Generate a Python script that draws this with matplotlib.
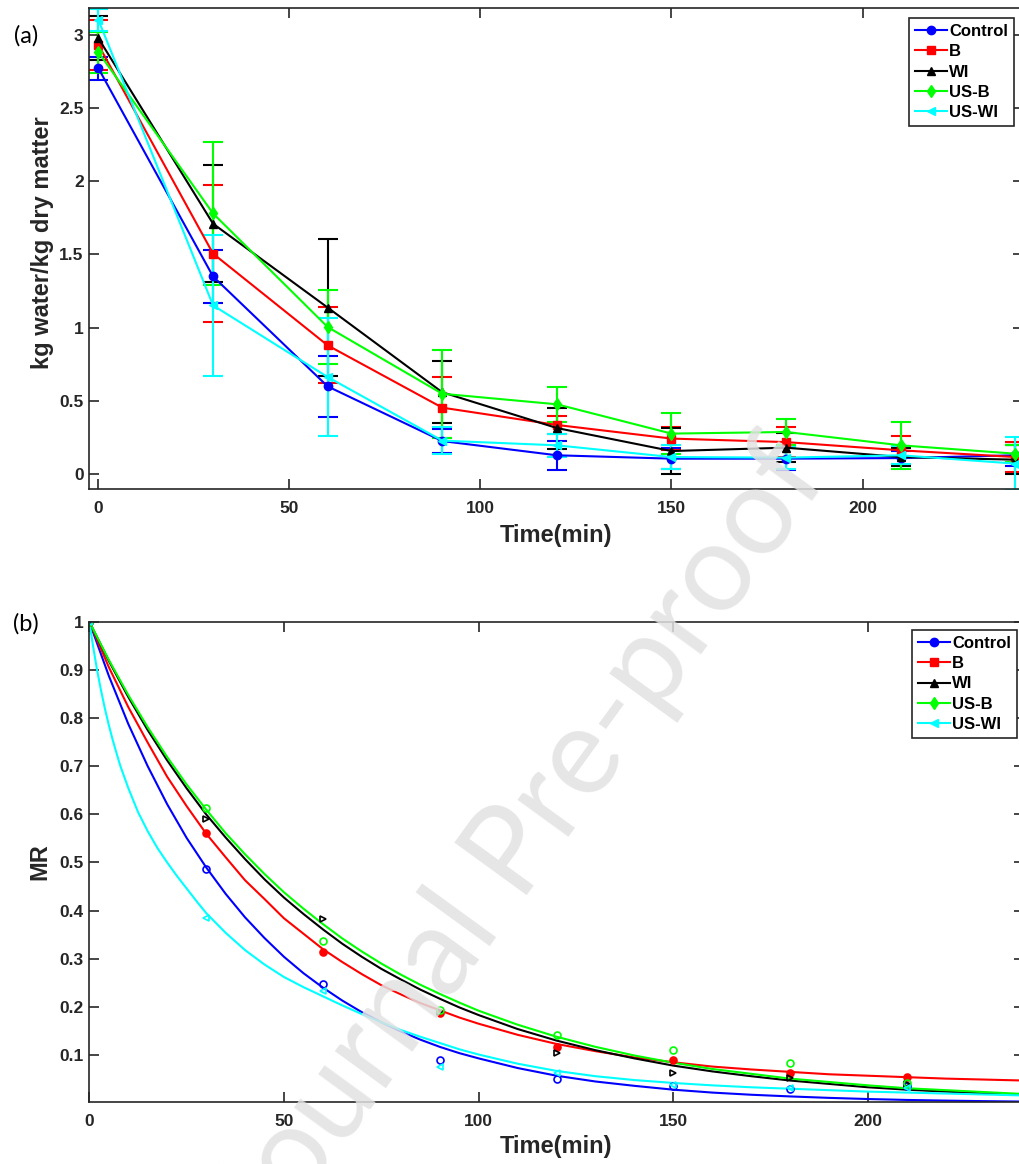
import numpy as np
import matplotlib
matplotlib.use('Agg')
import matplotlib.pyplot as plt
from matplotlib.lines import Line2D

plt.rcParams['font.family'] = ['Liberation Sans', 'DejaVu Sans']
plt.rcParams['font.weight'] = 'bold'

# ---------------- datos (a): contenido de humedad ----------------
tiempo = [0, 30, 60, 90, 120, 150, 180, 210, 240]

control = [2.77, 1.35, 0.60, 0.227, 0.13, 0.107, 0.107, 0.111, 0.13]
control_err = [0.08, 0.18, 0.21, 0.08, 0.10, 0.07, 0.075, 0.05, 0.07]
b = [2.93, 1.506, 0.88, 0.455, 0.337, 0.244, 0.22, 0.164, 0.118]
b_err = [0.17, 0.47, 0.26, 0.21, 0.06, 0.08, 0.10, 0.10, 0.10]
wi = [2.975, 1.71, 1.138, 0.56, 0.316, 0.159, 0.182, 0.118, 0.10]
wi_err = [0.15, 0.40, 0.47, 0.21, 0.14, 0.16, 0.10, 0.06, 0.10]
usb = [2.88, 1.78, 1.005, 0.55, 0.478, 0.278, 0.289, 0.198, 0.141]
usb_err = [0.14, 0.49, 0.25, 0.30, 0.12, 0.14, 0.09, 0.16, 0.06]
uswi = [3.10, 1.153, 0.664, 0.23, 0.198, 0.118, 0.114, 0.13, 0.073]
uswi_err = [0.075, 0.48, 0.40, 0.09, 0.08, 0.08, 0.075, 0.06, 0.18]

# ---------------- datos (b): MR experimental ----------------
mr_t = [0, 30, 60, 90, 120, 150, 180, 210]
mr_control = [1, 0.487, 0.247, 0.090, 0.050, 0.035, 0.030, 0.035]
mr_b = [1, 0.562, 0.315, 0.187, 0.116, 0.089, 0.062, 0.054]
mr_wi = [1, 0.59, 0.383, 0.19, 0.105, 0.062, 0.052, 0.040]
mr_usb = [1, 0.613, 0.336, 0.194, 0.142, 0.111, 0.083, 0.042]
mr_uswi = [1, 0.385, 0.234, 0.076, 0.062, 0.038, 0.031, 0.032]

# curvas del modelo
curva_t = [0, 5, 10, 15, 20, 25, 30, 35, 40, 45, 50, 55, 60, 65, 70, 75, 80, 85, 90, 95,
           100, 110, 120, 130, 140, 150, 160, 170, 180, 190, 200, 210, 220, 230, 240]
curva_control = [1, 0.888, 0.788, 0.70, 0.621, 0.551, 0.49, 0.435, 0.386, 0.343, 0.304,
                 0.27, 0.24, 0.213, 0.189, 0.168, 0.149, 0.132, 0.117, 0.104, 0.093,
                 0.073, 0.057, 0.045, 0.036, 0.028, 0.022, 0.0175, 0.014, 0.011,
                 0.0086, 0.0067, 0.0053, 0.0042, 0.0033]
curva_b = [1, 0.906, 0.823, 0.749, 0.678, 0.617, 0.56, 0.511, 0.463, 0.424, 0.384,
           0.352, 0.32, 0.293, 0.268, 0.245, 0.226, 0.208, 0.193, 0.178, 0.165,
           0.142, 0.123, 0.108, 0.095, 0.085, 0.076, 0.07, 0.065, 0.06, 0.057,
           0.054, 0.051, 0.049, 0.047]
curva_wi = [1, 0.919, 0.844, 0.775, 0.712, 0.654, 0.60, 0.552, 0.507, 0.465, 0.427,
            0.393, 0.361, 0.331, 0.304, 0.279, 0.257, 0.236, 0.217, 0.199, 0.183,
            0.154, 0.130, 0.110, 0.093, 0.078, 0.066, 0.056, 0.047, 0.040, 0.033,
            0.028, 0.024, 0.020, 0.017]
curva_usb = [1, 0.921, 0.848, 0.781, 0.719, 0.662, 0.61, 0.561, 0.517, 0.476, 0.438,
             0.404, 0.372, 0.342, 0.315, 0.29, 0.267, 0.246, 0.227, 0.209, 0.192,
             0.163, 0.138, 0.117, 0.099, 0.084, 0.071, 0.061, 0.051, 0.044, 0.037,
             0.031, 0.027, 0.023, 0.019]
curva_uswi_t = [0, 1, 2, 3, 4, 5, 6, 7, 8, 10, 12.5, 15, 17.5, 20, 22.5, 25, 27.5, 30,
                35, 40, 45, 50, 55, 60, 65, 70, 75, 80, 85, 90, 95, 100, 110, 120, 130,
                140, 150, 160, 170, 180, 190, 200, 210, 220, 230, 240]
curva_uswi = [1, 0.948, 0.90, 0.858, 0.82, 0.786, 0.755, 0.727, 0.70, 0.655, 0.605,
              0.565, 0.53, 0.50, 0.472, 0.446, 0.42, 0.395, 0.354, 0.318, 0.288, 0.262,
              0.241, 0.222, 0.203, 0.185, 0.168, 0.152, 0.138, 0.125, 0.112, 0.101,
              0.082, 0.067, 0.056, 0.048, 0.042, 0.037, 0.033, 0.030, 0.027, 0.024,
              0.022, 0.020, 0.018, 0.016]

nombres = ['Control', 'B', 'WI', 'US-B', 'US-WI']
colores = ['#0000ff', '#ff0000', '#000000', '#00ff00', '#00ffff']
marcas = ['o', 's', '^', 'd', '<']

gris = '#262626'

fig = plt.figure(figsize=(10.19, 11.64), dpi=100)

def estilo(ax):
    ax.tick_params(direction='in', length=7, width=1.2, top=True, right=True,
                   labelsize=12.5, colors=gris)
    ax.tick_params(axis='x', pad=9)
    ax.tick_params(axis='y', pad=4)
    for s in ax.spines.values():
        s.set_color(gris)
        s.set_linewidth(1.2)
    for lab in ax.get_xticklabels() + ax.get_yticklabels():
        lab.set_fontweight('bold')

# ---------------- grafico (a) ----------------
ax1 = fig.add_axes([0.0876, 0.5799, 1.0039 - 0.0876, 0.9929 - 0.5799])
datos = [control, b, wi, usb, uswi]
errores = [control_err, b_err, wi_err, usb_err, uswi_err]
for y, e, c, m, n in zip(datos, errores, colores, marcas, nombres):
    ax1.errorbar(tiempo, y, yerr=e, color=c, marker=m, markersize=6, lw=1.5,
                 elinewidth=1.5, capsize=7, capthick=1.5, label=n)
ax1.set_xlim(-2.4, 242)
ax1.set_ylim(-0.1, 3.18)
ax1.set_xticks([0, 50, 100, 150, 200])
ax1.set_yticks([0, 0.5, 1, 1.5, 2, 2.5, 3])
ax1.set_yticklabels(['0', '0.5', '1', '1.5', '2', '2.5', '3'])
estilo(ax1)

# ---------------- grafico (b) ----------------
ax2 = fig.add_axes([0.0876, 0.0535, 1.0047 - 0.0876, 0.4659 - 0.0535])
curvas = [(curva_t, curva_control), (curva_t, curva_b), (curva_t, curva_wi),
          (curva_t, curva_usb), (curva_uswi_t, curva_uswi)]
for (ct, cy), c in zip(curvas, colores):
    ax2.plot(ct, cy, color=c, lw=1.5)

puntos = [mr_control, mr_b, mr_wi, mr_usb, mr_uswi]
marcas_b = ['o', 'o', '>', 'o', '<']
rellenos = ['none', '#ff0000', 'none', 'none', 'none']
for y, c, m, f in zip(puntos, colores, marcas_b, rellenos):
    ax2.plot(mr_t, y, linestyle='none', marker=m, markersize=5, mew=1.2,
             markeredgecolor=c, markerfacecolor=f)

ax2.set_xlim(0, 240)
ax2.set_ylim(0.003, 1)
ax2.set_xticks([0, 50, 100, 150, 200])
ax2.set_yticks([0.1, 0.2, 0.3, 0.4, 0.5, 0.6, 0.7, 0.8, 0.9, 1])
ax2.set_yticklabels(['0.1', '0.2', '0.3', '0.4', '0.5', '0.6', '0.7', '0.8', '0.9', '1'])
estilo(ax2)

# leyendas
manijas = [Line2D([0], [0], color=c, marker=m, markersize=6, lw=1.5)
           for c, m in zip(colores, marcas)]
for ax, ancla in [(ax1, (0.995, 0.9845)), (ax2, (0.998, 0.4588))]:
    leg = ax.legend(manijas, nombres, loc='upper right', bbox_to_anchor=ancla,
                    bbox_transform=fig.transFigure, fontsize=12, frameon=True,
                    fancybox=False, edgecolor=gris, framealpha=1, borderpad=0.35,
                    labelspacing=0.32, handlelength=1.9, handletextpad=0.15,
                    borderaxespad=0)
    leg.get_frame().set_linewidth(1.2)
    for t in leg.get_texts():
        t.set_fontweight('bold')

# etiquetas
fig.text(556 / 1019, 1 - 536 / 1164, 'Time(min)', ha='center', va='center',
         fontsize=17, fontweight='bold', color=gris)
fig.text(556 / 1019, 1 - 1147 / 1164, 'Time(min)', ha='center', va='center',
         fontsize=17, fontweight='bold', color=gris)
fig.text(43 / 1019, 1 - 243 / 1164, 'kg water/kg dry matter', ha='center', va='center',
         rotation=90, fontsize=17, fontweight='bold', color=gris)
fig.text(40 / 1019, 1 - 862 / 1164, 'MR', ha='center', va='center',
         rotation=90, fontsize=17, fontweight='bold', color=gris)
fig.text(26 / 1019, 1 - 36 / 1164, '(a)', ha='center', va='center',
         fontsize=17, fontweight='normal', family='Lato', color='black')
fig.text(26 / 1019, 1 - 624 / 1164, '(b)', ha='center', va='center',
         fontsize=17, fontweight='normal', family='Lato', color='black')

# marca de agua
fig.text(0.512, 0.276, 'Journal Pre-proof', rotation=54, rotation_mode='anchor',
         ha='center', va='center', fontsize=89, fontweight='normal', family='Lato',
         color='#e2e2e2', alpha=0.85, zorder=10)

fig.savefig('out.png', dpi=100)
